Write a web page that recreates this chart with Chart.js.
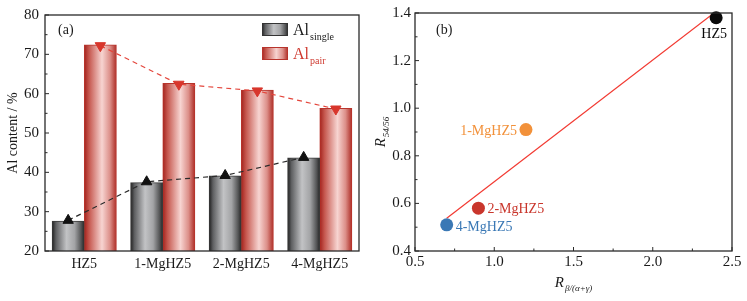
<!DOCTYPE html>
<html><head><meta charset="utf-8">
<script src="https://cdn.jsdelivr.net/npm/chart.js@4/dist/chart.umd.min.js"></script>
<style>
html,body{margin:0;padding:0;background:#fff;overflow:hidden;}
#wa{position:absolute;left:0;top:0;width:370px;height:301px;}
#wb{position:absolute;left:370px;top:0;width:377px;height:301px;}
</style></head><body>
<div id="wa"><canvas id="ca" width="370" height="301"></canvas></div>
<div id="wb"><canvas id="cb" width="377" height="301"></canvas></div>
<script>
// ---- Panel (a) data ----
const categories = ['HZ5', '1-MgHZ5', '2-MgHZ5', '4-MgHZ5'];
const alSingle = [27.6, 37.4, 39.1, 43.7];
const alPair = [72.4, 62.6, 60.9, 56.3];
const singleMarkers = [27.8, 37.6, 39.2, 43.8];
const pairMarkers = [72.2, 62.4, 60.7, 56.1];
const yRangeA = [20, 80];
const yStepA = 10;

// ---- Panel (b) data ----
const sampleNames = ['HZ5', '1-MgHZ5', '2-MgHZ5', '4-MgHZ5'];
const rBeta = [2.4, 1.2, 0.9, 0.7];
const r5456 = [1.38, 0.91, 0.58, 0.51];
const fitX = [0.7, 2.4];
const fitY = [0.538, 1.407];
const xRangeB = [0.5, 2.5];
const xStepB = 0.5;
const yRangeB = [0.4, 1.4];
const yStepB = 0.2;

const SERIF = '"Liberation Serif", "DejaVu Serif", serif';
const INK = '#1a1a1a';
const pointColors = ['#0a0a0a', '#f2913a', '#c9362c', '#3a78b5'];
const GROUP = 0.82;            // fraction of a category used by the bar pair
const SHIFT = GROUP / 4;       // offset of each bar centre from the category centre

function makeGrad(ctx, x0, x1, kind) {
  const g = ctx.createLinearGradient(x0, 0, x1, 0);
  if (kind === 'gray') {
    g.addColorStop(0, '#1e1e1e');
    g.addColorStop(0.12, '#5e5f61');
    g.addColorStop(0.45, '#c2c3c5');
    g.addColorStop(0.7, '#a3a4a6');
    g.addColorStop(0.9, '#555657');
    g.addColorStop(1, '#262626');
  } else {
    g.addColorStop(0, '#a3221c');
    g.addColorStop(0.15, '#c6584f');
    g.addColorStop(0.55, '#f7d4d1');
    g.addColorStop(0.8, '#dc8f89');
    g.addColorStop(1, '#ad2c25');
  }
  return g;
}

const gradPlugin = {
  id: 'grad',
  beforeDatasetsDraw(chart) {
    const ctx = chart.ctx;
    chart.data.datasets.forEach((ds, i) => {
      if (!ds.grad) return;
      const meta = chart.getDatasetMeta(i);
      meta.data.forEach(el => {
        const g = makeGrad(ctx, el.x - el.width / 2, el.x + el.width / 2, ds.grad);
        el.options = Object.assign({}, el.options, { backgroundColor: g });
      });
    });
  }
};

function frameTicks(xMinor, yMinor, xMajor) {
  return {
    id: 'frameTicks',
    afterDatasetsDraw(chart) {
      const { ctx, chartArea: a } = chart;
      ctx.save();
      ctx.strokeStyle = '#2a2a2a';
      ctx.lineWidth = 1.3;
      ctx.strokeRect(a.left, a.top, a.right - a.left, a.bottom - a.top);
      ctx.lineWidth = 1;
      const ys = chart.scales.y;
      const yv = ys.ticks.map(t => t.value);
      ctx.beginPath();
      yv.forEach((v, k) => {
        const p = ys.getPixelForValue(v);
        ctx.moveTo(a.left, p); ctx.lineTo(a.left + 4, p);
        if (yMinor && k < yv.length - 1) {
          const q = ys.getPixelForValue((v + yv[k + 1]) / 2);
          ctx.moveTo(a.left, q); ctx.lineTo(a.left + 2.5, q);
        }
      });
      if (xMajor) {
        const xs = chart.scales.x;
        const xv = xs.ticks.map(t => t.value);
        xv.forEach((v, k) => {
          const p = xs.getPixelForValue(v);
          ctx.moveTo(p, a.bottom); ctx.lineTo(p, a.bottom - 4);
          if (xMinor && k < xv.length - 1) {
            const q = xs.getPixelForValue((v + xv[k + 1]) / 2);
            ctx.moveTo(q, a.bottom); ctx.lineTo(q, a.bottom - 2.5);
          }
        });
      }
      ctx.stroke();
      ctx.restore();
    }
  };
}

function drawSub(ctx, x, y, main, sub, mainFont, subFont, color, dy, align) {
  ctx.font = mainFont;
  const w1 = ctx.measureText(main).width;
  ctx.font = subFont;
  const w2 = ctx.measureText(sub).width;
  let sx = x;
  if (align === 'center') sx = x - (w1 + w2 + 1) / 2;
  ctx.fillStyle = color;
  ctx.textAlign = 'left';
  ctx.textBaseline = 'alphabetic';
  ctx.font = mainFont;
  ctx.fillText(main, sx, y);
  ctx.font = subFont;
  ctx.fillText(sub, sx + w1 + 1, y + dy);
}

const textA = {
  id: 'textA',
  afterDraw(chart) {
    const ctx = chart.ctx;
    const a = chart.chartArea;
    ctx.save();
    ctx.fillStyle = INK;
    ctx.font = '14px ' + SERIF;
    ctx.textAlign = 'left';
    ctx.fillText('(a)', 58, 34);
    [['gray', 'single', INK, 23], ['red', 'pair', '#cf3a30', 47]].forEach(([k, sub, col, y]) => {
      ctx.fillStyle = makeGrad(ctx, 262, 288, k);
      ctx.fillRect(262, y, 26, 13);
      ctx.strokeStyle = k === 'gray' ? '#333' : '#b8342c';
      ctx.lineWidth = 1;
      ctx.strokeRect(262.5, y + 0.5, 25, 12);
      drawSub(ctx, 293, y + 12, 'Al', sub, '16px ' + SERIF, '10px ' + SERIF, col, 5, 'left');
    });
    ctx.translate(17, (a.top + a.bottom) / 2);
    ctx.rotate(-Math.PI / 2);
    ctx.fillStyle = INK;
    ctx.font = '14px ' + SERIF;
    ctx.textAlign = 'center';
    ctx.fillText('Al content / %', 0, 0);
    ctx.restore();
  }
};

new Chart(document.getElementById('ca'), {
  type: 'bar',
  data: {
    datasets: [
      { type: 'line', order: 1,
        data: singleMarkers.map((v, i) => ({ x: i - SHIFT, y: v })),
        borderColor: '#2b2b2b', borderWidth: 1.2, borderDash: [5, 4],
        pointStyle: 'triangle', pointRadius: 6, pointBackgroundColor: '#111', pointBorderColor: '#111', pointBorderWidth: 1 },
      { type: 'line', order: 1,
        data: pairMarkers.map((v, i) => ({ x: i + SHIFT, y: v })),
        borderColor: '#e4463c', borderWidth: 1.2, borderDash: [5, 4],
        pointStyle: 'triangle', rotation: 180, pointRadius: 6, pointBackgroundColor: '#d8362c', pointBorderColor: '#d8362c', pointBorderWidth: 1 },
      { type: 'bar', label: 'Al single', grad: 'gray', order: 2,
        data: alSingle.map((v, i) => ({ x: i - SHIFT, y: v })),
        backgroundColor: '#888', borderColor: '#3a3a3a', borderWidth: 1,
        grouped: false, categoryPercentage: 1, barPercentage: 1 },
      { type: 'bar', label: 'Al pair', grad: 'red', order: 2,
        data: alPair.map((v, i) => ({ x: i + SHIFT, y: v })),
        backgroundColor: '#d88', borderColor: '#b8342c', borderWidth: 1,
        grouped: false, categoryPercentage: 1, barPercentage: 1 }
    ]
  },
  options: {
    responsive: false, animation: false, events: [],
    layout: { padding: { top: 13, right: 11, left: 0, bottom: 0 } },
    plugins: { legend: { display: false }, tooltip: { enabled: false } },
    scales: {
      x: { type: 'linear', min: -0.5, max: categories.length - 0.5, offset: false,
        grid: { display: false, drawTicks: false, offset: false }, border: { display: false },
        afterBuildTicks(s) { s.ticks = categories.map((c, i) => ({ value: i })); },
        ticks: { autoSkip: false, maxRotation: 0, font: { family: SERIF, size: 14 }, color: INK, padding: 5,
          callback: v => (categories[v] !== undefined ? categories[v] : '') },
        afterFit(s) { s.height = 50; } },
      y: { min: yRangeA[0], max: yRangeA[1], grid: { display: false, drawTicks: false }, border: { display: false },
        ticks: { stepSize: yStepA, font: { family: SERIF, size: 15 }, color: INK, padding: 6 },
        afterFit(s) { s.width = 45; } }
    }
  },
  plugins: [gradPlugin, frameTicks(false, true, false), textA]
});

const textB = {
  id: 'textB',
  afterDraw(chart) {
    const ctx = chart.ctx;
    const a = chart.chartArea;
    const xs = chart.scales.x, ys = chart.scales.y;
    ctx.save();
    ctx.fillStyle = INK;
    ctx.font = '14px ' + SERIF;
    ctx.textAlign = 'left';
    ctx.fillText('(b)', 66, 34);
    const offs = [[-2, 20, 'center'], [-9, 5, 'right'], [9, 5, 'left'], [9, 6, 'left']];
    sampleNames.forEach((n, i) => {
      const px = xs.getPixelForValue(rBeta[i]);
      const py = ys.getPixelForValue(r5456[i]);
      ctx.fillStyle = pointColors[i];
      ctx.font = '14px ' + SERIF;
      ctx.textAlign = offs[i][2];
      ctx.fillText(n, px + offs[i][0], py + offs[i][1]);
    });
    drawSub(ctx, (a.left + a.right) / 2, 287, 'R', 'β/(α+γ)', 'italic 15px ' + SERIF, 'italic 9px ' + SERIF, INK, 4, 'center');
    ctx.translate(15, (a.top + a.bottom) / 2);
    ctx.rotate(-Math.PI / 2);
    drawSub(ctx, 0, 0, 'R', '54/56', 'italic 15px ' + SERIF, 'italic 9px ' + SERIF, INK, 4, 'center');
    ctx.restore();
  }
};

new Chart(document.getElementById('cb'), {
  type: 'scatter',
  data: {
    datasets: [
      { type: 'scatter', order: 0, clip: false,
        data: rBeta.map((x, i) => ({ x: x, y: r5456[i] })),
        backgroundColor: pointColors, borderColor: pointColors, pointRadius: 6.5, borderWidth: 0 },
      { type: 'line', order: 1,
        data: fitX.map((x, i) => ({ x: x, y: fitY[i] })),
        borderColor: '#f23a32', borderWidth: 1.2, pointRadius: 0, fill: false }
    ]
  },
  options: {
    responsive: false, animation: false, events: [],
    layout: { padding: { top: 13, right: 15, left: 0, bottom: 0 } },
    plugins: { legend: { display: false }, tooltip: { enabled: false } },
    scales: {
      x: { type: 'linear', min: xRangeB[0], max: xRangeB[1], grid: { display: false, drawTicks: false }, border: { display: false },
        ticks: { stepSize: xStepB, font: { family: SERIF, size: 15 }, color: INK, padding: 2, callback: v => Number(v).toFixed(1) },
        afterFit(s) { s.height = 50; } },
      y: { min: yRangeB[0], max: yRangeB[1], grid: { display: false, drawTicks: false }, border: { display: false },
        ticks: { stepSize: yStepB, font: { family: SERIF, size: 15 }, color: INK, padding: 4, callback: v => Number(v).toFixed(1) },
        afterFit(s) { s.width = 45; } }
    }
  },
  plugins: [frameTicks(true, true, true), textB]
});
</script>
</body></html>
